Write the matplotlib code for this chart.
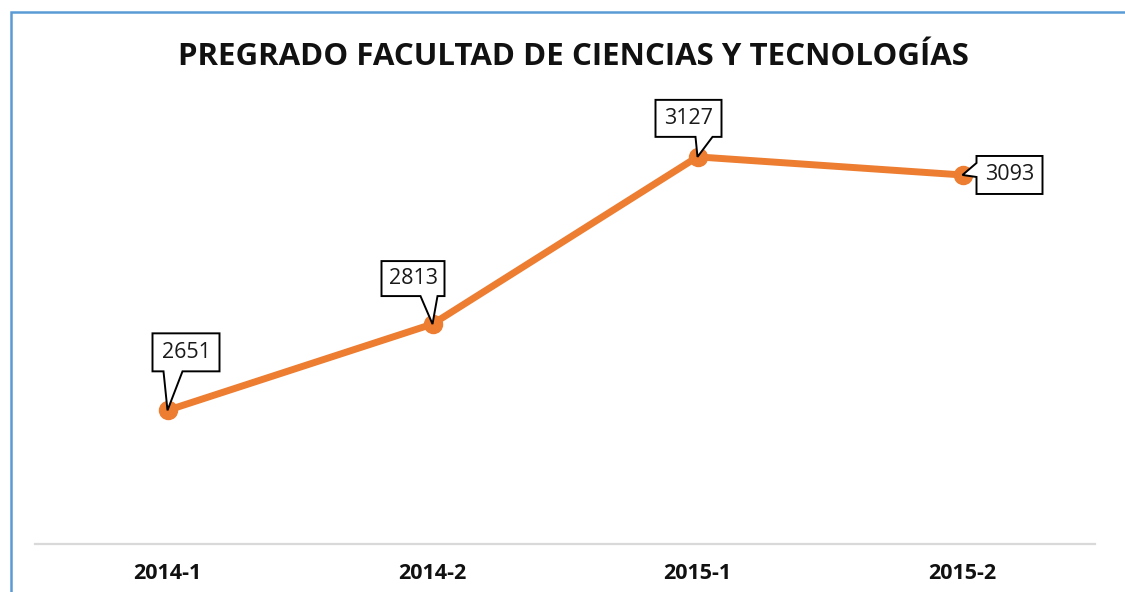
import matplotlib
matplotlib.use("Agg")
import matplotlib.pyplot as plt
from matplotlib.patches import Polygon, Rectangle
from matplotlib.transforms import Affine2D

periodos = ["2014-1", "2014-2", "2015-1", "2015-2"]
estudiantes = [2651, 2813, 3127, 3093]
titulo = "PREGRADO FACULTAD DE CIENCIAS Y TECNOLOGÍAS"

plt.rcParams['font.family'] = ['Open Sans', 'DejaVu Sans']

W, H, DPI = 1125, 592, 100
fig = plt.figure(figsize=(W / DPI, H / DPI), dpi=DPI)

# chart frame (cropped on the right and bottom)
fig.add_artist(Rectangle((10.5 / W, -0.2), 2.0, 1.2 - 11.5 / H, transform=fig.transFigure,
                         facecolor='none', edgecolor='#5B9BD5', lw=1.8))

ax = fig.add_axes([35 / W, 48 / H, 1060 / W, 426 / H])
x = range(len(periodos))
ax.plot(x, estudiantes, color='#ED7D31', lw=5, marker='o', ms=13,
        solid_capstyle='round', zorder=3)
ax.set_xlim(-0.5, len(periodos) - 0.5)
ax.set_ylim(2400, 3200)
ax.set_yticks([])
ax.set_xticks(list(x))
ax.set_xticklabels(periodos, fontsize=15.5, fontweight='bold', color='#111111')
ax.tick_params(axis='x', length=0, pad=14)
for s in ['top', 'right', 'left']:
    ax.spines[s].set_visible(False)
ax.spines['bottom'].set_color('#d9d9d9')
ax.spines['bottom'].set_linewidth(1.6)

fig.text(573 / W, 1 - 57 / H, titulo, ha='center', va='center', fontsize=22.5,
         fontweight='bold', color='#111111')

# callout boxes: (box left, right, bottom, top) in pixel offsets, pointer base side
callouts = [
    ((-15, 52, 39, 77), 'bottom', (-4, 15)),
    ((-51, 12, 28, 63), 'bottom', (-12, 5)),
    ((-42, 24, 20, 57), 'bottom', (-2, 15)),
    ((14, 80, -19, 19), 'left', (12, -2)),
]

for xi, yi, (box, side, base) in zip(x, estudiantes, callouts):
    l, r, b, t = box
    if side == 'bottom':
        verts = [(l, t), (r, t), (r, b), (base[1], b), (0, 0), (base[0], b), (l, b)]
    else:
        verts = [(l, t), (r, t), (r, b), (l, b), (l, base[1]), (0, 0), (l, base[0])]
    px, py = ax.transData.transform((xi, yi))
    poly = Polygon(verts, closed=True, facecolor='white', edgecolor='black', lw=1.4,
                   joinstyle='miter', transform=Affine2D().translate(px, py), zorder=5)
    fig.add_artist(poly)
    fig.text((px + (l + r) / 2) / W, (py + (b + t) / 2) / H, str(yi), ha='center',
             va='center', fontsize=15.5, color='#1a1a1a', zorder=6)

fig.savefig("out.png", dpi=DPI, facecolor='white')
